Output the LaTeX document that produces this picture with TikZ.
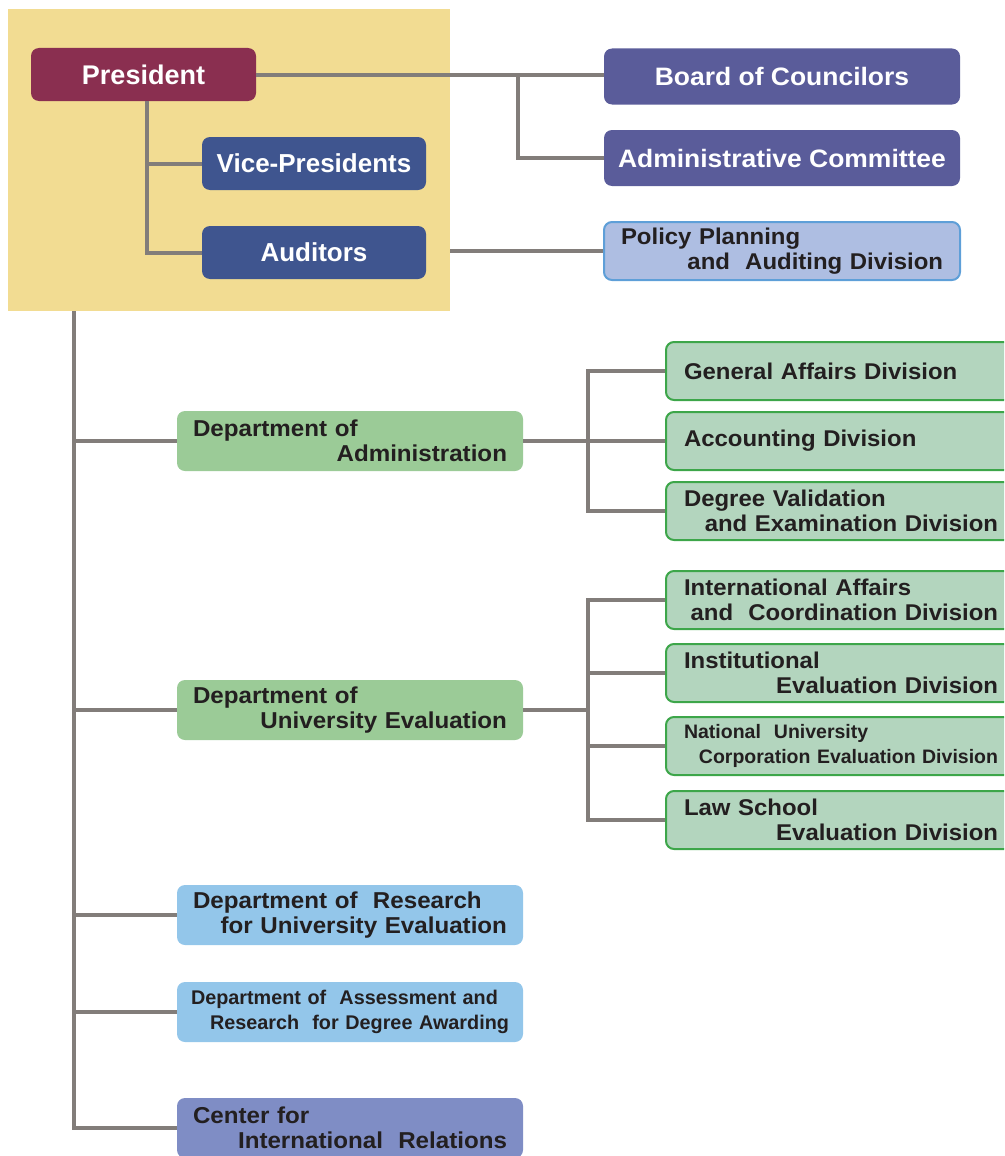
\documentclass[tikz,border=0pt]{standalone}
\usepackage{fontspec}
\setmainfont{Liberation Sans}
\newfontfamily\widefont[FakeStretch=1.05]{Liberation Sans}
\usepackage{tikz}
\definecolor{nibyellow}{RGB}{242,220,146}
\definecolor{nibwine}{RGB}{138,47,80}
\definecolor{nibnavy}{RGB}{63,85,143}
\definecolor{nibviolet}{RGB}{90,92,154}
\definecolor{nibpale}{RGB}{174,190,226}
\definecolor{nibsky}{RGB}{94,159,216}
\definecolor{nibleaf}{RGB}{155,203,151}
\definecolor{nibmint}{RGB}{179,213,190}
\definecolor{nibgreen}{RGB}{61,166,74}
\definecolor{nibice}{RGB}{147,198,234}
\definecolor{niblilac}{RGB}{127,141,197}
\definecolor{nibgray}{RGB}{130,125,122}
\definecolor{nibink}{RGB}{35,31,32}
\tikzstyle{conn} = [line width=4pt, color=nibgray]

\begin{document}
\begin{tikzpicture}[x=1pt, y=-1pt,
    chief/.style={rectangle, rounded corners=8pt, fill=nibwine, text=white, font=\bfseries\fontsize{27}{32}\selectfont, minimum width=225pt, minimum height=53pt, inner sep=0pt},
    officer/.style={rectangle, rounded corners=8pt, fill=nibnavy, text=white, font=\bfseries\fontsize{26}{30}\selectfont, minimum width=224pt, minimum height=53pt, inner sep=0pt},
    council/.style={rectangle, rounded corners=8pt, fill=nibviolet, text=white, font=\widefont\bfseries\fontsize{25.2}{30}\selectfont, minimum width=356pt, minimum height=56pt, inner sep=0pt},
    policy/.style={rectangle, rounded corners=8pt, fill=nibpale, draw=nibsky, line width=2pt, text=nibink, font=\widefont\bfseries\fontsize{22.8}{25.5}\selectfont, minimum width=356pt, minimum height=58pt, text width=322pt, align=left, inner xsep=17pt, inner ysep=0pt},
    dept/.style={rectangle, rounded corners=8pt, text=nibink, font=\widefont\bfseries\fontsize{23}{25.5}\selectfont, minimum width=346pt, minimum height=60pt, text width=314pt, align=left, inner xsep=16pt, inner ysep=0pt},
    division/.style={rectangle, rounded corners=8pt, fill=nibmint, draw=nibgreen, line width=2pt, text=nibink, font=\widefont\bfseries\fontsize{22.8}{25.5}\selectfont, minimum width=350pt, minimum height=58pt, text width=314pt, align=left, inner xsep=18pt, inner ysep=0pt}]

\useasboundingbox (0,0) rectangle (1004,1156);
\clip (0,0) rectangle (1004,1156);

% Executive area
\node[rectangle, fill=nibyellow, minimum width=442pt, minimum height=302pt, inner sep=0pt] (bg) at (229,160) {};

\node[chief] (pres) at (143.5,74.5) {President};
\node[officer] (vp) at (314,163.5) {Vice-Presidents};
\node[officer] (aud) at (314,252.5) {Auditors};

\node[council] (board) at (782,76.5) {Board of Councilors};
\node[council] (admc) at (782,158) {Administrative Committee};
\node[policy] (pol) at (782,251) {Policy Planning\\\hspace*{\fill}and\ \ Auditing Division};

% Departments
\node[dept, fill=nibleaf] (dadm) at (350,441) {Department of\\\hspace*{\fill}Administration};
\node[dept, fill=nibleaf] (deval) at (350,710) {Department of\\\hspace*{\fill}University Evaluation};
\node[dept, fill=nibice] (dres) at (350,915) {Department of\ \ Research\\\hspace*{\fill}for University Evaluation};
\node[dept, fill=nibice, font=\bfseries\fontsize{19.8}{25.5}\selectfont, text width=318pt, inner xsep=14pt] (dass) at (350,1012) {Department of\ \ Assessment and\\\hspace*{\fill}Research\ \ for Degree Awarding};
\node[dept, fill=niblilac] (cir) at (350,1128) {Center for\\\hspace*{\fill}International\ \ Relations};

% Divisions
\node[division] (gen) at (841,371) {General Affairs Division};
\node[division] (acc) at (841,441) {Accounting Division};
\node[division] (deg) at (841,511) {Degree Validation\\\hspace*{\fill}and Examination Division};

\node[division] (intl) at (841,600) {International Affairs\\\hspace*{\fill}and\ \ Coordination Division};
\node[division] (inst) at (841,673) {Institutional\\\hspace*{\fill}Evaluation Division};
\node[division, font=\bfseries\fontsize{19.5}{25.5}\selectfont] (nat) at (841,746) {National\ \ University\\\hspace*{\fill}Corporation Evaluation Division};
\node[division] (law) at (841,820) {Law School\\\hspace*{\fill}Evaluation Division};

% Connectors
\coordinate (bj) at (518,74.5);
\draw[conn] (pres.east) -- (pres.east -| board.west);
\draw[conn] (bj) |- (admc.west);
\draw[conn] ([xshift=3.5pt]pres.south) |- (vp.west);
\draw[conn] ([xshift=3.5pt]pres.south) |- (aud.west);
\draw[conn] (bg.east |- pol.west) -- (pol.west);

\coordinate (trunk) at ([xshift=66pt]bg.south west);
\draw[conn] (trunk) |- (cir.west);
\foreach \d in {dadm,deval,dres,dass}
    \draw[conn] (trunk |- \d.west) -- (\d.west);

\coordinate (ja) at ([xshift=65pt]dadm.east);
\draw[conn] (dadm.east) -- (ja);
\foreach \n in {gen,acc,deg}
    \draw[conn] (ja) |- (\n.west);

\coordinate (jb) at ([xshift=65pt]deval.east);
\draw[conn] (deval.east) -- (jb);
\foreach \n in {intl,inst,nat,law}
    \draw[conn] (jb) |- (\n.west);

\end{tikzpicture}
\end{document}
